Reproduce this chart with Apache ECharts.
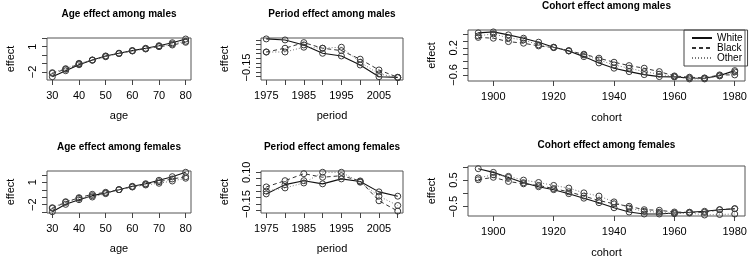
<!DOCTYPE html>
<html>
<head>
<meta charset="utf-8">
<script src="https://cdn.jsdelivr.net/npm/echarts@6/dist/echarts.min.js"></script>
<style>
  html, body { margin: 0; padding: 0; background: #fff; }
  #chart { width: 750px; height: 266px; }
</style>
</head>
<body>
<div id="chart"></div>
<script>
// x values
const ages = [30, 35, 40, 45, 50, 55, 60, 65, 70, 75, 80]
const periods = [1975, 1980, 1985, 1990, 1995, 2000, 2005, 2010]
const cohorts = [1895, 1900, 1905, 1910, 1915, 1920, 1925, 1930, 1935, 1940, 1945, 1950, 1955, 1960, 1965, 1970, 1975, 1980]

// age effects
const ageMaleWhite = [-2.56, -1.85, -1.14, -0.58, -0.10, 0.22, 0.53, 0.81, 1.12, 1.47, 1.91]
const ageMaleBlack = [-2.16, -1.68, -1.05, -0.58, -0.14, 0.22, 0.53, 0.76, 1.00, 1.20, 1.52]
const ageMaleOther = [-2.08, -1.61, -0.97, -0.61, -0.19, 0.17, 0.49, 0.73, 1.05, 1.32, 1.64]
const ageFemaleWhite = [-2.94, -1.95, -1.33, -0.79, -0.43, 0.01, 0.46, 0.81, 1.27, 1.75, 2.34]
const ageFemaleBlack = [-2.48, -1.68, -1.06, -0.61, -0.34, 0.01, 0.41, 0.73, 1.08, 1.44, 1.75]
const ageFemaleOther = [-2.40, -1.60, -1.14, -0.97, -0.52, 0.01, 0.37, 0.64, 0.87, 1.17, 1.54]

// period effects
const periodMaleWhite = [0.160, 0.149, 0.095, 0.004, -0.025, -0.123, -0.250, -0.257]
const periodMaleBlack = [0.018, 0.059, 0.120, 0.059, 0.033, -0.060, -0.177, -0.257]
const periodMaleOther = [0.018, 0.018, 0.070, 0.059, 0.070, -0.093, -0.220, -0.260]
const periodFemaleWhite = [-0.070, 0.003, 0.034, 0.009, 0.048, 0.027, -0.054, -0.088]
const periodFemaleBlack = [-0.015, 0.034, 0.089, 0.061, 0.073, 0.032, -0.124, -0.205]
const periodFemaleOther = [-0.048, -0.023, 0.016, 0.100, 0.100, 0.022, -0.088, -0.161]

// cohort effects
const cohortMaleWhite = [0.644, 0.674, 0.585, 0.487, 0.369, 0.221, 0.111, -0.058, -0.244, -0.401, -0.502, -0.591, -0.650, -0.659, -0.689, -0.698, -0.621, -0.473]
const cohortMaleBlack = [0.511, 0.487, 0.387, 0.339, 0.259, 0.209, 0.111, 0.013, -0.105, -0.224, -0.324, -0.401, -0.502, -0.630, -0.668, -0.689, -0.600, -0.600]
const cohortMaleOther = [0.556, 0.615, 0.496, 0.437, 0.289, 0.215, 0.120, -0.007, -0.156, -0.304, -0.401, -0.502, -0.579, -0.650, -0.719, -0.719, -0.630, -0.511]
const cohortFemaleWhite = [0.93, 0.79, 0.60, 0.40, 0.25, 0.14, -0.01, -0.18, -0.35, -0.54, -0.70, -0.775, -0.775, -0.737, -0.711, -0.673, -0.613, -0.576]
const cohortFemaleBlack = [0.515, 0.605, 0.45, 0.36, 0.30, 0.18, 0.06, -0.10, -0.27, -0.39, -0.485, -0.613, -0.636, -0.70, -0.711, -0.711, -0.613, -0.576]
const cohortFemaleOther = [0.58, 0.70, 0.64, 0.50, 0.41, 0.30, 0.20, 0.02, -0.10, -0.32, -0.549, -0.673, -0.711, -0.764, -0.737, -0.812, -0.794, -0.775]

// tick values
const ageTicks = [30, 40, 50, 60, 70, 80]
const periodTicks = [1975, 1980, 1985, 1990, 1995, 2000, 2005, 2010]
const periodLabels = [1975, 1985, 1995, 2005]
const cohortTicks = [1900, 1920, 1940, 1960, 1980]

const FONT = '"Liberation Sans", Arial, sans-serif'

const panels = [
  { title: 'Age effect among males', xName: 'age', x: ages, ys: [ageMaleWhite, ageMaleBlack, ageMaleOther],
    grid: { left: 47, top: 38, width: 144, height: 42 }, titleTop: 9,
    xMin: 28, xMax: 82, xTicks: ageTicks, xLabels: ageTicks,
    yMin: -2.95, yMax: 2.03, yTicks: [-2, -1, 0, 1, 2], yLabels: [-2, 1], digits: 0 },
  { title: 'Period effect among males', xName: 'period', x: periods, ys: [periodMaleWhite, periodMaleBlack, periodMaleOther],
    grid: { left: 261, top: 38, width: 142, height: 42 }, titleTop: 9,
    xMin: 1973.6, xMax: 2011.4, xTicks: periodTicks, xLabels: periodLabels,
    yMin: -0.286, yMax: 0.17, yTicks: [-0.25, -0.2, -0.15, -0.1, -0.05, 0, 0.05, 0.1, 0.15], yLabels: [-0.15], digits: 2 },
  { title: 'Cohort effect among males', xName: 'cohort', x: cohorts, ys: [cohortMaleWhite, cohortMaleBlack, cohortMaleOther],
    grid: { left: 468, top: 30, width: 277, height: 51 }, titleTop: 1,
    xMin: 1891.6, xMax: 1983.4, xTicks: cohortTicks, xLabels: cohortTicks,
    yMin: -0.78, yMax: 0.73, yTicks: [-0.6, -0.4, -0.2, 0, 0.2, 0.4, 0.6], yLabels: [-0.6, 0.2], digits: 1 },
  { title: 'Age effect among females', xName: 'age', x: ages, ys: [ageFemaleWhite, ageFemaleBlack, ageFemaleOther],
    grid: { left: 47, top: 171, width: 144, height: 42 }, titleTop: 142,
    xMin: 28, xMax: 82, xTicks: ageTicks, xLabels: ageTicks,
    yMin: -3.11, yMax: 2.51, yTicks: [-3, -2, -1, 0, 1, 2], yLabels: [-2, 1], digits: 0 },
  { title: 'Period effect among females', xName: 'period', x: periods, ys: [periodFemaleWhite, periodFemaleBlack, periodFemaleOther],
    grid: { left: 261, top: 171, width: 142, height: 42 }, titleTop: 142,
    xMin: 1973.6, xMax: 2011.4, xTicks: periodTicks, xLabels: periodLabels,
    yMin: -0.22, yMax: 0.11, yTicks: [-0.2, -0.15, -0.1, -0.05, 0, 0.05, 0.1], yLabels: [-0.15, 0.1], digits: 2 },
  { title: 'Cohort effect among females', xName: 'cohort', x: cohorts, ys: [cohortFemaleWhite, cohortFemaleBlack, cohortFemaleOther],
    grid: { left: 468, top: 166, width: 277, height: 50 }, titleTop: 140,
    xMin: 1891.6, xMax: 1983.4, xTicks: cohortTicks, xLabels: cohortTicks,
    yMin: -0.85, yMax: 1.03, yTicks: [-0.5, 0, 0.5, 1], yLabels: [-0.5, 0.5], digits: 1 }
]

const groups = ['White', 'Black', 'Other']
const lineStyles = {
  White: { type: 'solid', color: '#111', width: 1.1 },
  Black: { type: [4, 3], color: '#333', width: 1 },
  Other: { type: [1, 2], color: '#777', width: 1 }
}

const fmt = (d) => (v) => Number(v).toFixed(d).replace('-', '\u2212')

const chart = echarts.init(document.getElementById('chart'))
const option = {
  animation: false,
  title: panels.map(p => ({
    text: p.title,
    left: p.grid.left + p.grid.width / 2,
    top: p.titleTop,
    textAlign: 'center',
    padding: 0,
    textStyle: { fontSize: 10, fontWeight: 'bold', color: '#000', fontFamily: FONT }
  })),
  legend: {
    data: groups,
    orient: 'vertical',
    left: 684,
    top: 30,
    itemWidth: 20,
    itemHeight: 8,
    itemGap: 0,
    padding: [3, 5, 3, 7],
    borderColor: '#444',
    borderWidth: 1,
    selectedMode: false,
    itemStyle: { opacity: 0 },
    textStyle: { fontSize: 10, lineHeight: 10, color: '#000', fontFamily: FONT }
  },
  grid: panels.map(p => Object.assign({ show: true, borderColor: '#555', borderWidth: 1, backgroundColor: 'transparent' }, p.grid)),
  xAxis: panels.map((p, i) => ({
    type: 'value',
    gridIndex: i,
    min: p.xMin,
    max: p.xMax,
    name: p.xName,
    nameLocation: 'middle',
    nameGap: i % 3 === 2 ? 31 : 30,
    nameTextStyle: { fontSize: 11, color: '#000', fontFamily: FONT },
    axisLine: { show: false, onZero: false },
    splitLine: { show: false },
    axisTick: { show: true, length: 5, customValues: p.xTicks, lineStyle: { color: '#444' } },
    axisLabel: { customValues: p.xLabels, margin: 10, fontSize: 11, color: '#000', fontFamily: FONT, formatter: (v) => String(v) }
  })),
  yAxis: panels.map((p, i) => ({
    type: 'value',
    gridIndex: i,
    min: p.yMin,
    max: p.yMax,
    name: 'effect',
    nameLocation: 'middle',
    nameGap: 31,
    nameTextStyle: { fontSize: 11, color: '#000', fontFamily: FONT },
    axisLine: { show: false, onZero: false },
    splitLine: { show: false },
    axisTick: { show: true, length: 5, customValues: p.yTicks, lineStyle: { color: '#444' } },
    axisLabel: { customValues: p.yLabels, rotate: 90, margin: 9, fontSize: 11, color: '#000', fontFamily: FONT, formatter: fmt(p.digits) }
  })),
  series: []
}

panels.forEach((p, i) => {
  groups.forEach((g, k) => {
    option.series.push({
      name: g,
      type: 'line',
      xAxisIndex: i,
      yAxisIndex: i,
      data: p.x.map((v, j) => [v, p.ys[k][j]]),
      symbol: 'circle',
      symbolSize: 6,
      showAllSymbol: true,
      lineStyle: lineStyles[g],
      itemStyle: { color: 'rgba(0,0,0,0)', borderColor: '#3a3a3a', borderWidth: 1 },
      emphasis: { disabled: true }
    })
  })
})

chart.setOption(option)
</script>
</body>
</html>
